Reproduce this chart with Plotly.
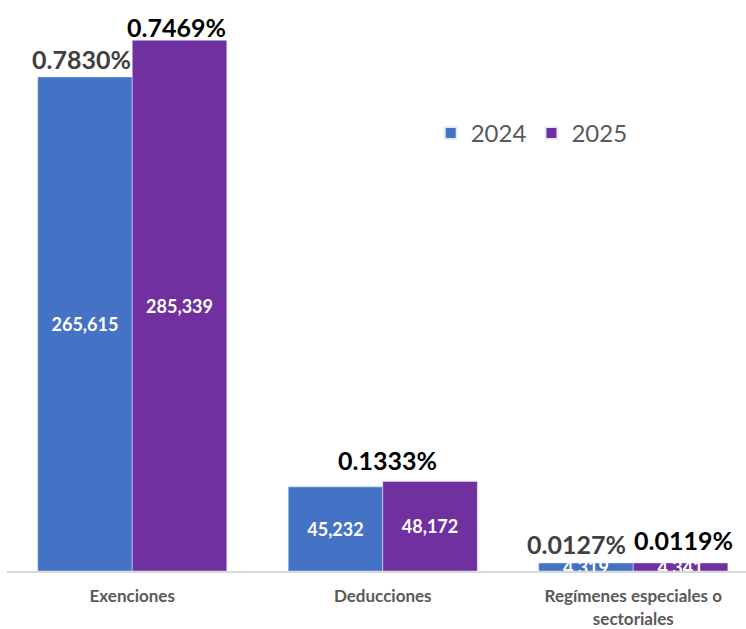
import plotly.graph_objects as go

categories = ["Exenciones", "Deducciones", "Regímenes especiales o<br>sectoriales"]
values_2024 = [265615, 45232, 4319]
values_2025 = [285339, 48172, 4341]
pct_2024 = ["0.7830%", None, "0.0127%"]
pct_2025 = ["0.7469%", "0.1333%", "0.0119%"]

# label pixel nudges (style only)
shift_2024 = [(-51, 18), (0, 0), (-57, 19)]
shift_2025 = [(44, 13), (5, 21), (50, 23)]

BLUE = "#4472C4"
PURPLE = "#7030A0"
FONT = "Lato"

fig = go.Figure()
fig.add_trace(go.Bar(
    x=categories, y=values_2024, name="2024", marker_color=BLUE,
    text=[f"{v:,}" for v in values_2024], textposition="inside",
    insidetextanchor="middle", constraintext="none",
    textfont=dict(family=FONT, size=18, color="white", weight="bold"),
))
fig.add_trace(go.Bar(
    x=categories, y=values_2025, name="2025", marker_color=PURPLE,
    text=[f"{v:,}" for v in values_2025], textposition="inside",
    insidetextanchor="middle", constraintext="none",
    textfont=dict(family=FONT, size=18, color="white", weight="bold"),
))

for cat, val, lab, (dx, dy) in zip(categories, values_2024, pct_2024, shift_2024):
    if lab:
        fig.add_annotation(x=cat, y=val, text=f"<b>{lab}</b>", showarrow=False,
                           xshift=dx, yshift=dy, yanchor="middle",
                           font=dict(family=FONT, size=25, color="#404040"))
for cat, val, lab, (dx, dy) in zip(categories, values_2025, pct_2025, shift_2025):
    if lab:
        fig.add_annotation(x=cat, y=val, text=f"<b>{lab}</b>", showarrow=False,
                           xshift=dx, yshift=dy, yanchor="middle",
                           font=dict(family=FONT, size=25, color="#000000"))

fig.update_layout(
    width=746, height=629,
    margin=dict(l=7, r=0, t=10, b=58),
    paper_bgcolor="white", plot_bgcolor="white",
    barmode="group", bargap=0.245, bargroupgap=0,
    showlegend=True,
    legend=dict(orientation="h", x=0.71, y=0.78, xanchor="center", yanchor="middle",
                font=dict(family=FONT, size=24, color="#595959"),
                itemsizing="constant", bgcolor="rgba(0,0,0,0)"),
    font=dict(family=FONT),
)
fig.update_xaxes(
    range=[-0.5, 2.45], showline=True, linecolor="#D9D9D9", linewidth=2,
    ticks="", showgrid=False, automargin=False, ticklabelstandoff=9,
    tickfont=dict(family=FONT, size=17, color="#595959", weight="bold"),
)
fig.update_yaxes(range=[0, 301600], visible=False, showgrid=False, automargin=False)

fig.write_html("out.html")
